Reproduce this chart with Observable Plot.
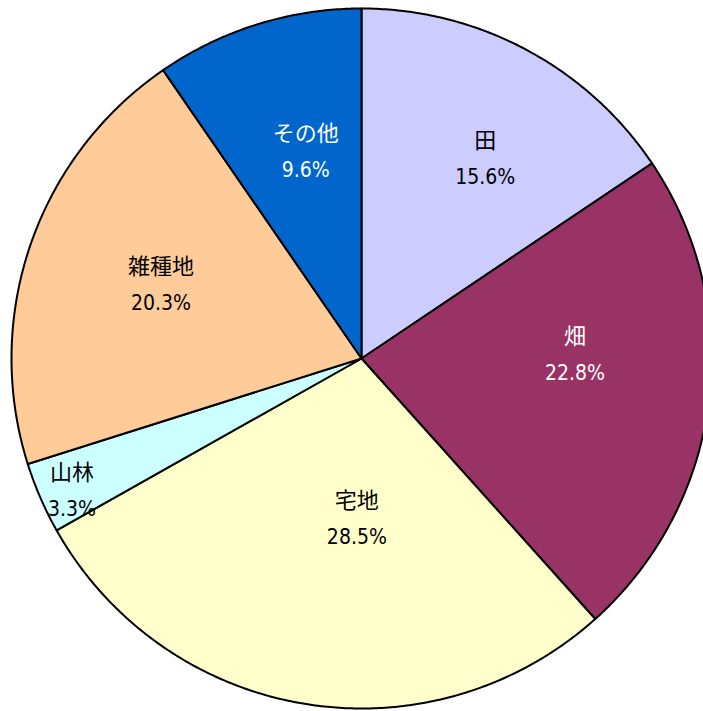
<!DOCTYPE html>
<html>
<head>
<meta charset="utf-8">
<script src="https://cdn.jsdelivr.net/npm/d3@7"></script>
<script src="https://cdn.jsdelivr.net/npm/@observablehq/plot@0.6"></script>
<style>
  html, body { margin: 0; padding: 0; background: #fff; overflow: hidden; }
</style>
</head>
<body>
<div id="chart"></div>
<script>
// ---- data ----
const categories = ["田", "畑", "宅地", "山林", "雑種地", "その他"];
const shares = [15.6, 22.8, 28.5, 3.3, 20.3, 9.6];
const fillColors = ["#CCCCFF", "#993366", "#FFFFCC", "#CCFFFF", "#FFCC99", "#0066CC"];
const textColors = ["#000000", "#FFFFFF", "#000000", "#000000", "#000000", "#FFFFFF"];

// ---- layout (label placement: fraction of radius, angle nudge in degrees) ----
const labelRadius = [0.67, 0.61, 0.46, 0.91, 0.61, 0.61];
const labelNudge = [3.8, -8, -7.7, -1.2, 1.1, 2.1];

const total = d3.sum(shares);
const slices = [];
const labels = [];
let acc = 0;
categories.forEach((cat, i) => {
  const a0 = (acc / total) * 2 * Math.PI;
  acc += shares[i];
  const a1 = (acc / total) * 2 * Math.PI;
  const n = Math.max(2, Math.ceil((a1 - a0) / (Math.PI / 360)));
  slices.push({cat, color: fillColors[i], x: 0, y: 0});
  for (let k = 0; k <= n; k++) {
    const a = a0 + (a1 - a0) * k / n;
    slices.push({cat, color: fillColors[i], x: Math.sin(a), y: Math.cos(a)});
  }
  const am = (a0 + a1) / 2 + labelNudge[i] * Math.PI / 180;
  labels.push({
    name: cat,
    pct: `${shares[i].toFixed(1)}%`,
    color: textColors[i],
    x: Math.sin(am) * labelRadius[i],
    y: Math.cos(am) * labelRadius[i]
  });
});

const chart = Plot.plot({
  width: 703,
  height: 711,
  margin: 0,
  x: {domain: [-1, 1], range: [11, 711], axis: null},
  y: {domain: [-1, 1], range: [708, 8], axis: null},
  color: {type: "identity"},
  style: {background: "#fff"},
  marks: [
    Plot.line(slices, {
      x: "x", y: "y", z: "cat",
      fill: "color",
      stroke: "#000",
      strokeWidth: 2,
      strokeLinejoin: "round",
      curve: "linear-closed"
    }),
    Plot.text(labels, {
      x: "x", y: "y", dy: -18,
      text: "name",
      fill: "color",
      fontSize: 22,
      fontWeight: "normal",
      textAnchor: "middle",
      fontFamily: "'Noto Sans CJK JP', 'Noto Sans', sans-serif"
    }),
    Plot.text(labels, {
      x: "x", y: "y", dy: 18,
      text: "pct",
      fill: "color",
      fontSize: 21,
      textAnchor: "middle",
      fontFamily: "'DejaVu Sans Condensed', 'DejaVu Sans', sans-serif"
    })
  ]
});
document.getElementById("chart").appendChild(chart);
</script>
</body>
</html>
